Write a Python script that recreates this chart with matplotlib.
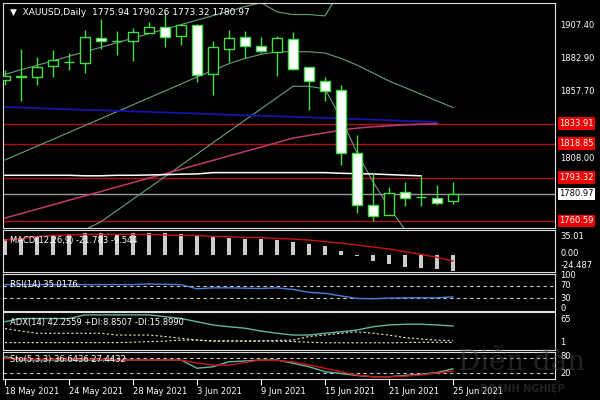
import matplotlib
matplotlib.use("Agg")
import matplotlib.pyplot as plt
import numpy as np

dates = ["18 May 2021", "24 May 2021", "28 May 2021", "3 Jun 2021", "9 Jun 2021",
         "15 Jun 2021", "21 Jun 2021", "25 Jun 2021"]
date_idx = [0, 4, 8, 12, 16, 20, 24, 28]

opens  = [1866.5,1869,1869,1877,1880,1879.5,1898,1896,1896,1902,1906.6,1899.9,1908,1871,1890,1899,1892.3,1888,1897.6,1876.5,1866,1859,1812,1772.6,1765,1782.4,1778.6,1778,1775.94]
highs  = [1874.3,1890,1884,1889.5,1887,1904.4,1912.7,1903.6,1906,1910.4,1918,1909,1909,1896,1904,1903.6,1899,1900,1903,1876.5,1869,1863,1825,1797,1786,1790,1794.5,1787.7,1790.26]
lows   = [1863,1851,1863,1869,1874,1872,1890,1885.5,1881,1902,1891.6,1893,1865,1855.4,1880,1883,1887,1870,1874,1844,1851,1803,1766.6,1760.5,1765,1772,1772,1772.6,1773.32]
closes = [1869.5,1869.2,1876.5,1882,1880.3,1899,1896,1896.2,1903,1906.6,1899,1908,1870.5,1891.6,1898,1892.3,1888.6,1898,1875,1866,1858.5,1812,1772.6,1764.3,1782,1777.9,1778.9,1774,1780.97]

bb_upper = [1871,1874.4,1877.8,1881.2,1884.6,1888,1891.4,1894.8,1898.2,1901.6,1905,1908.4,1911.8,1915.2,1918.6,1922,1925,1918,1916,1916,1915,1935,1950,1955,1958,1960,1960,1960,1958]
bb_mid   = [1806.5,1811.7,1816.9,1822.1,1827.3,1832.5,1837.7,1842.9,1848.1,1853.3,1858.5,1863.7,1869,1874,1879,1883,1886,1888,1888,1888,1887,1883,1878,1872,1866,1861,1856,1851,1846]
bb_lower = [1720,1727,1734,1741,1748,1754,1760,1768.5,1777,1785.5,1794,1802.5,1811,1819.5,1828,1836.5,1845,1853.5,1862,1862,1860,1838,1812,1790,1771,1754,1745,1735,1725]
ma_blue  = [1846.4,1846,1845.5,1845.1,1844.7,1844.3,1843.9,1843.5,1843.1,1842.7,1842.3,1841.9,1841.5,1841,1840.6,1840.2,1839.8,1839.4,1839,1838.6,1838.1,1837.7,1837.3,1836.9,1836.5,1836,1835.6,1835.1,1834.6]
ma_mag   = [1762.8,1766.1,1769.5,1772.8,1776.2,1779.5,1782.8,1786.2,1789.5,1792.9,1796.2,1799.5,1802.9,1806.2,1809.6,1812.9,1816.2,1819.6,1823,1825,1827,1829,1830.5,1831.5,1832.3,1833,1833.5,1833.8,1834]
ma_white = [1795,1795,1795,1795,1795,1794.6,1794.6,1795,1795,1795.2,1795.5,1795.8,1796,1797,1797,1797,1797,1797,1797,1797,1797,1796.5,1796.2,1796,1795.5,1795,1794.6,1794.3,1794]
levels = [1833.91, 1818.85, 1793.32, 1760.59]
last_price = 1780.97
price_ticks = [1907.40, 1882.90, 1857.70, 1808.00]

macd_hist = [32,32,36,39,40,42,42,41,42,43,42,41,37,36,34,32,31,29,26,21,18,8,-1.5,-12,-18,-23,-26,-28,-31]
macd_sig  = [29,32,36,38,39,40,40,40,40,40,39,38,38,36,36,34,34,32,31,29,26,23,19.5,15.6,11.7,6.5,1.3,-4.5,-11.7]
rsi = [73,73,73,73,73,73,73,73,73,75,74,73,60,63,63,62,61,63,58,49,46,38,30,29,31,32,32,32,35]
adx = [60,69,69,69,69,79,79,79,79,79,74,69,60,51,46,42,34,28,23,23,28,32,37,46,51,53,53,51,48]
di_a = [41,34,28,28,28,28,28,23,23,23,19,14,9,6,6,6,6,8,9,19,23,28,32,28,23,16,12,9,7]
di_b = [2,2,2,2,2,2,2,2,3,5,6,9,9,7,7,7,7,6,5,3,1.5,1.5,1.5,1.5,1.5,2,3,3,2.5]
sto_k = [85,72,72,72,72,72,72,72,72,72,72,72,39,45,65,68,72,72,59,45,25,18,10,5,5,10,15,22,36.6]
sto_d = [79,75,75,75,75,75,75,72,72,72,72,72,60,52,52,62,72,70,65,52,39,25,12,5,5,7,12,20,27.4]

GREEN = "#44dd44"
BAND = "#6b9e7a"
RED = "#b01010"
fs = 6

fig = plt.figure(figsize=(6, 4), dpi=100, facecolor="black")
x = np.arange(len(opens))
xlim = (-0.125, 34.375)

def frame(ax):
    ax.set_facecolor("black")
    for s in ax.spines.values():
        s.set_color("#e0e0e0"); s.set_linewidth(0.8)
    ax.set_xlim(*xlim)
    ax.set_xticks([]); ax.set_yticks([])

ax = fig.add_axes([3/600, 1-228/400, 552/600, 225/400])
frame(ax)
ax.set_ylim(1755.3, 1924.7)
for lv in levels:
    ax.axhline(lv, color=RED, lw=1, zorder=1)
ax.axhline(last_price, color="#9a9a9a", lw=1, zorder=1)
ax.plot(x, bb_upper, color=BAND, lw=0.8, zorder=2)
ax.plot(x, bb_mid, color=BAND, lw=0.8, zorder=2)
ax.plot(x, bb_lower, color=BAND, lw=0.8, zorder=2)
ax.plot(x[:28], ma_blue[:28], color="#1414a8", lw=1.3, zorder=2)
ax.plot(x[:28], ma_mag[:28], color="#c03a70", lw=1.1, zorder=2)
ax.plot(x[:27], ma_white[:27], color="white", lw=1.1, zorder=2)
o = np.array(opens); c = np.array(closes)
ax.vlines(x, lows, highs, color=GREEN, lw=1, zorder=3)
bottoms = np.minimum(o, c)
heights = np.maximum(np.abs(c - o), 0.4)
faces = ["white" if cc < oo else "black" for oo, cc in zip(o, c)]
ax.bar(x, heights, bottom=bottoms, width=0.62, color=faces, edgecolor=GREEN, linewidth=1, zorder=4)
ax.text(0.012, 0.978, "\u25BC  XAUUSD,Daily  1775.94 1790.26 1773.32 1780.97", transform=ax.transAxes,
        color="white", fontsize=fs + 0.5, va="top", ha="left")
for p in price_ticks:
    ax.annotate(f"{p:.2f}", xy=(1, p), xycoords=("axes fraction", "data"), xytext=(4, 0),
                textcoords="offset points", color="white", fontsize=fs, va="center", annotation_clip=False)
for lv in levels:
    ax.annotate(f"{lv:.2f}", xy=(1, lv), xycoords=("axes fraction", "data"), xytext=(3, 0),
                textcoords="offset points", color="white", fontsize=fs, va="center", annotation_clip=False,
                bbox=dict(boxstyle="square,pad=0.2", fc="#ee0000", ec="none"))
ax.annotate(f"{last_price:.2f}", xy=(1, last_price), xycoords=("axes fraction", "data"), xytext=(3, 0),
            textcoords="offset points", color="black", fontsize=fs, va="center", annotation_clip=False,
            bbox=dict(boxstyle="square,pad=0.2", fc="white", ec="none"))

def rlabel(a, val, txt):
    a.annotate(txt, xy=(1, val), xycoords=("axes fraction", "data"), xytext=(4, 0),
               textcoords="offset points", color="white", fontsize=fs, va="center", annotation_clip=False)

a1 = fig.add_axes([3/600, 1-272/400, 552/600, 42/400]); frame(a1)
a1.set_ylim(-33, 48.6)
a1.bar(x, macd_hist, width=0.3, color="#cccccc", zorder=2)
a1.plot(x, macd_sig, color="#d01010", lw=1, zorder=3)
a1.text(0.012, 0.86, "MACD(12,26,9) -21.783 -9.544", transform=a1.transAxes, color="white", fontsize=fs, va="top")
rlabel(a1, 35.01, "35.01"); rlabel(a1, 2, "0.00"); rlabel(a1, -20, "-24.487")

a2 = fig.add_axes([3/600, 1-311/400, 552/600, 37/400]); frame(a2)
a2.set_ylim(-9, 106)
for lv in (70, 30):
    a2.axhline(lv, color="#cccccc", lw=0.8, ls=(0, (3, 3)))
a2.plot(x, rsi, color="#4a7fd8", lw=1)
a2.text(0.012, 0.85, "RSI(14) 35.0176", transform=a2.transAxes, color="white", fontsize=fs, va="top")
for v in (100, 70, 30, 0):
    rlabel(a2, v, str(v))

a3 = fig.add_axes([3/600, 1-350/400, 552/600, 38/400]); frame(a3)
a3.set_ylim(-18.5, 87)
a3.plot(x, adx, color="#5fb8a0", lw=1)
a3.plot(x, di_a, color="#e8e8c0", lw=0.8, ls=(0, (2, 2)))
a3.plot(x, di_b, color="#e8e8c0", lw=0.8, ls=(0, (2, 2)))
a3.text(0.012, 0.85, "ADX(14) 42.2559 +DI:8.8507 -DI:15.8990", transform=a3.transAxes, color="white", fontsize=fs, va="top")
rlabel(a3, 65, "65"); rlabel(a3, 1, "1")

a4 = fig.add_axes([3/600, 1-379/400, 552/600, 27/400]); frame(a4)
a4.set_ylim(-4, 104)
for lv in (80, 20):
    a4.axhline(lv, color="#cccccc", lw=0.8, ls=(0, (3, 3)))
a4.plot(x, sto_k, color="#5fb8a0", lw=1)
a4.plot(x, sto_d, color="#d01010", lw=1)
a4.text(0.012, 0.9, "Sto(5,3,3) 36.6436 27.4432", transform=a4.transAxes, color="white", fontsize=fs, va="top")
rlabel(a4, 85, "80"); rlabel(a4, 18, "20")
a4.set_xticks(date_idx)
a4.set_xticklabels(dates, fontsize=fs, color="white", ha="left")
a4.tick_params(axis="x", colors="white", length=4, pad=2)

fig.text(0.87, 0.075, "Diễn đàn", color="#444444", alpha=0.5, fontsize=20, fontfamily="DejaVu Serif", ha="center")
fig.text(0.87, 0.02, "DOANH NGHIỆP", color="#444444", alpha=0.5, fontsize=7, ha="center", fontweight="bold")

fig.savefig("out.png", dpi=100, facecolor="black")
